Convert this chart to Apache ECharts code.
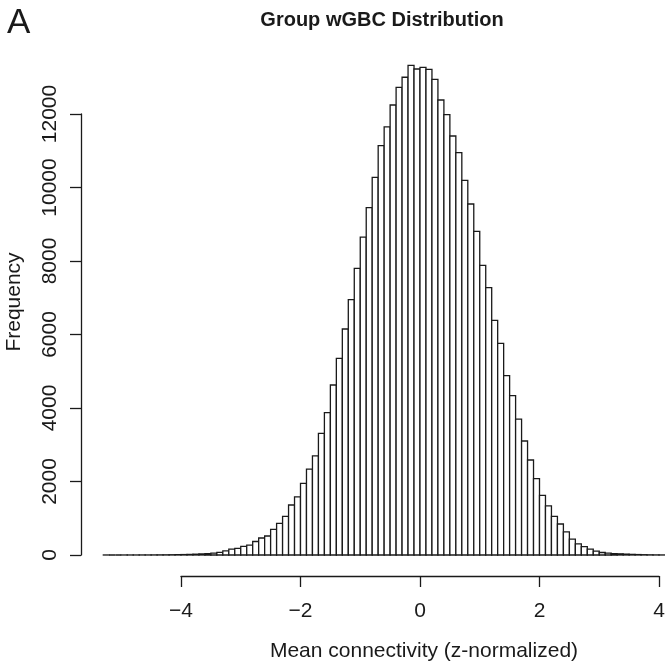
<!DOCTYPE html>
<html>
<head>
<meta charset="utf-8">
<script src="https://cdn.jsdelivr.net/npm/echarts@6/dist/echarts.min.js"></script>
<style>
html,body{margin:0;padding:0;background:#fff;}
#chart{width:665px;height:670px;}
</style>
</head>
<body>
<div id="chart"></div>
<script>
// Histogram bins: left edge of first bin and bin width
const binStart = -5.3;
const binWidth = 0.1;
// Counts per bin, from -5.3 to 4.1
const counts = [
  1, 0, 0, 1, 1, 1, 2, 2, 3, 4,
  5, 7, 9, 12, 16, 22, 30, 40, 52, 72,
  113, 158, 181, 232, 268, 368, 463, 517, 699, 863,
  1053, 1361, 1580, 1951, 2336, 2700, 3311, 3872, 4626, 5350,
  6150, 6950, 7800, 8650, 9450, 10277, 11140, 11650, 12245, 12726,
  13000, 13325, 13224, 13270, 13216, 12944, 12381, 11981, 11401, 10947,
  10196, 9551, 8808, 7883, 7273, 6386, 5760, 4879, 4335, 3700,
  3102, 2585, 2076, 1620, 1338, 1050, 844, 630, 431, 304,
  226, 162, 105, 68, 50, 40, 32, 24, 17, 12,
  8, 5, 3, 2
];
const xTicks = [-4, -2, 0, 2, 4];
const yTicks = [0, 2000, 4000, 6000, 8000, 10000, 12000];

const titleText = 'Group wGBC Distribution';
const xLabel = 'Mean connectivity (z-normalized)';
const yLabel = 'Frequency';
const panelLabel = 'A';

const FONT = '"Liberation Sans", Arial, Helvetica, sans-serif';
const INK = '#1a1a1a';

const binData = counts.map((c, i) => [
  +(binStart + i * binWidth).toFixed(2),
  +(binStart + (i + 1) * binWidth).toFixed(2),
  c
]);

const chart = echarts.init(document.getElementById('chart'), null, {renderer: 'canvas'});

const pxPerUnit = 59.75;
const dataXMin = -5.5, dataXMax = 4.1;
const zeroX = 420;
const dataLeft = zeroX + dataXMin * pxPerUnit;
const dataWidth = (dataXMax - dataXMin) * pxPerUnit;
const baseY = 555;
const pxPerCount = 441 / 12000;
const dataYMax = 14000;
const dataTop = baseY - dataYMax * pxPerCount;

const option = {
  backgroundColor: '#ffffff',
  animation: false,
  title: {
    text: titleText,
    left: 377, top: 5, textAlign: 'center',
    textStyle: {fontFamily: FONT, fontSize: 20, fontWeight: 'bold', color: INK}
  },
  graphic: [
    {type: 'text', left: 7, top: 6, style: {text: panelLabel, font: '35px ' + FONT, fill: INK}},
    {type: 'text', x: 14, y: 302, rotation: Math.PI / 2,
     style: {text: yLabel, font: '21px ' + FONT, fill: INK, textAlign: 'center', textVerticalAlign: 'middle'}},
    {type: 'text', x: 424, y: 651,
     style: {text: xLabel, font: '21px ' + FONT, fill: INK, textAlign: 'center', textVerticalAlign: 'middle'}}
  ],
  grid: [
    {left: dataLeft, width: dataWidth, top: dataTop, height: baseY - dataTop, outerBoundsMode: 'none', containLabel: false},
    {left: 181, width: 478, top: 500, height: 76, outerBoundsMode: 'none', containLabel: false},
    {left: 81, width: 10, top: 114, height: 441, outerBoundsMode: 'none', containLabel: false}
  ],
  xAxis: [
    {gridIndex: 0, type: 'value', min: dataXMin, max: dataXMax, show: false},
    {gridIndex: 1, type: 'value', min: xTicks[0], max: xTicks[xTicks.length - 1], interval: 2,
     axisLine: {show: true, lineStyle: {color: INK, width: 1.3}},
     axisTick: {show: true, length: 11, lineStyle: {color: INK, width: 1.3}},
     splitLine: {show: false},
     axisLabel: {margin: 25, fontFamily: FONT, fontSize: 21, color: INK,
       formatter: v => String(v).replace('-', '\u2212')}},
    {gridIndex: 2, type: 'value', show: false}
  ],
  yAxis: [
    {gridIndex: 0, type: 'value', min: 0, max: dataYMax, show: false},
    {gridIndex: 1, type: 'value', show: false},
    {gridIndex: 2, type: 'value', min: yTicks[0], max: yTicks[yTicks.length - 1], interval: 2000,
     position: 'left',
     axisLine: {show: true, lineStyle: {color: INK, width: 1.3}},
     axisTick: {show: true, length: 11, lineStyle: {color: INK, width: 1.3}},
     splitLine: {show: false},
     axisLabel: {rotate: 90, margin: 20, fontFamily: FONT, fontSize: 21, color: INK,
       formatter: v => String(v)}}
  ],
  series: [{
    type: 'custom',
    xAxisIndex: 0, yAxisIndex: 0,
    data: binData,
    encode: {x: [0, 1], y: 2},
    clip: false,
    renderItem: function (params, api) {
      const p0 = api.coord([api.value(0), 0]);
      const p1 = api.coord([api.value(1), api.value(2)]);
      return {
        type: 'rect',
        shape: {x: p0[0], y: p1[1], width: p1[0] - p0[0], height: p0[1] - p1[1]},
        style: {fill: '#ffffff', stroke: INK, lineWidth: 1.3}
      };
    }
  }]
};
chart.setOption(option);
</script>
</body>
</html>
